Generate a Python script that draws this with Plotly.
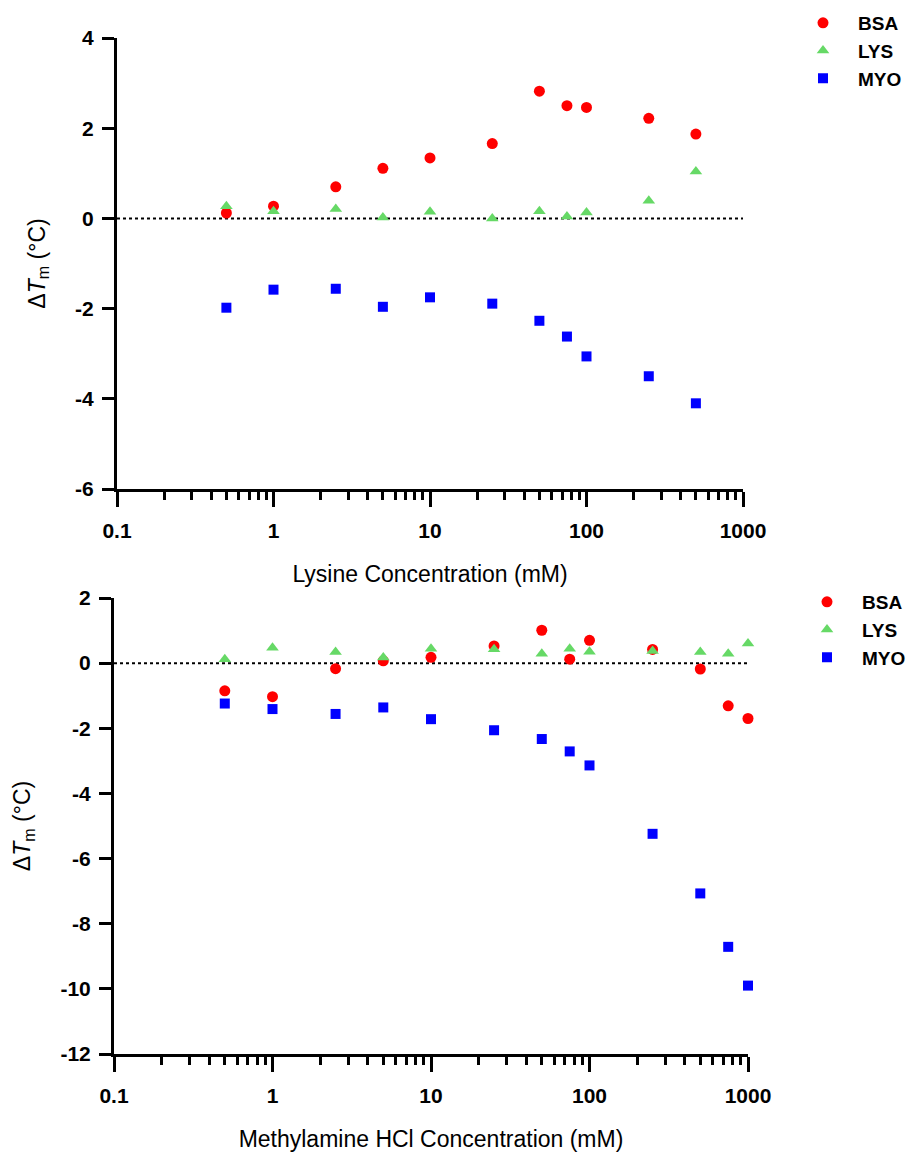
import plotly.graph_objects as go

# page has an 8px body margin, so the figure is sized to fit inside the 914x1157 window
W, H = 906, 1149
OFF = 8

# ---- Data: top panel (Lysine) ----
lys_conc = [0.5, 1, 2.5, 5, 10, 25, 50, 75, 100, 250, 500]
lys_bsa = [0.12, 0.27, 0.70, 1.11, 1.34, 1.66, 2.82, 2.50, 2.46, 2.22, 1.87]
lys_lys = [0.27, 0.16, 0.21, 0.02, 0.15, 0.00, 0.16, 0.04, 0.13, 0.39, 1.04]
lys_myo = [-1.98, -1.58, -1.56, -1.96, -1.75, -1.89, -2.27, -2.62, -3.06, -3.50, -4.10]

# ---- Data: bottom panel (Methylamine HCl) ----
mea_conc = [0.5, 1, 2.5, 5, 10, 25, 50, 75, 100, 250, 500, 750, 1000]
mea_bsa = [-0.85, -1.03, -0.17, 0.07, 0.18, 0.53, 1.01, 0.12, 0.70, 0.42, -0.18, -1.31, -1.70]
mea_lys = [0.12, 0.47, 0.34, 0.17, 0.44, 0.43, 0.29, 0.44, 0.35, 0.37, 0.34, 0.29, 0.60]
mea_myo = [-1.24, -1.41, -1.56, -1.36, -1.72, -2.06, -2.33, -2.71, -3.14, -5.24, -7.07, -8.71, -9.90]

x_tickvals = [0.1, 1, 10, 100, 1000]
x_ticktext = ["0.1", "1", "10", "100", "1000"]
minor_vals = [m * d for d in [0.1, 1, 10, 100] for m in range(2, 10)]

y1_tickvals = [-6, -4, -2, 0, 2, 4]
y1_ticktext = ["-6", "-4", "-2", "0", "2", "4"]
y2_tickvals = [-12, -10, -8, -6, -4, -2, 0, 2]
y2_ticktext = ["-12", "-10", "-8", "-6", "-4", "-2", "0", "2"]

series_names = ["BSA", "LYS", "MYO"]
colors = {"BSA": "#ff0000", "LYS": "#66d966", "MYO": "#0000ff"}
symbols = {"BSA": "circle", "LYS": "triangle-up", "MYO": "square"}
sizes = {"BSA": 11, "LYS": 11, "MYO": 10}

FONT = "Liberation Sans, Arial, sans-serif"


def px(x):
    return (x - OFF) / W


def py(y):
    return 1 - (y - OFF) / H


fig = go.Figure()

top = {"BSA": lys_bsa, "LYS": lys_lys, "MYO": lys_myo}
bot = {"BSA": mea_bsa, "LYS": mea_lys, "MYO": mea_myo}

for n in series_names:
    fig.add_trace(go.Scatter(
        x=lys_conc, y=top[n], mode="markers", name=n, cliponaxis=False,
        marker=dict(color=colors[n], symbol=symbols[n], size=sizes[n], line=dict(width=0)),
        xaxis="x", yaxis="y", legend="legend"))
for n in series_names:
    fig.add_trace(go.Scatter(
        x=mea_conc, y=bot[n], mode="markers", name=n, cliponaxis=False,
        marker=dict(color=colors[n], symbol=symbols[n], size=sizes[n], line=dict(width=0)),
        xaxis="x2", yaxis="y2", legend="legend2"))


def xaxis(dom, title, anchor):
    return dict(
        type="log", range=[-1, 3], domain=dom, anchor=anchor, automargin=False,
        tickmode="array", tickvals=x_tickvals, ticktext=x_ticktext,
        ticks="outside", ticklen=15, tickwidth=2.5, tickcolor="black",
        ticklabelstandoff=6,
        showline=True, linewidth=3, linecolor="black",
        showgrid=False, zeroline=False,
        tickfont=dict(family=FONT, size=21, color="black", weight="bold"),
        minor=dict(tickmode="array", tickvals=minor_vals, ticks="outside",
                   ticklen=8, tickwidth=2.5, tickcolor="black", showgrid=False),
        title=dict(text=title, font=dict(family=FONT, size=23, color="black"), standoff=25),
    )


def yaxis(dom, rng, anchor, tv, tt):
    return dict(
        range=rng, domain=dom, anchor=anchor, automargin=False,
        tickmode="array", tickvals=tv, ticktext=tt,
        ticks="outside", ticklen=12, tickwidth=2.5, tickcolor="black",
        ticklabelstandoff=4,
        showline=True, linewidth=3, linecolor="black",
        showgrid=False, zeroline=False,
        tickfont=dict(family=FONT, size=21, color="black", weight="bold"),
        title=dict(text="Δ<i>T</i><sub>m</sub> (°C)",
                   font=dict(family=FONT, size=23, color="black"), standoff=24),
    )


legend_common = dict(xanchor="left", yanchor="top", itemwidth=60,
                     font=dict(family=FONT, size=19, color="black", weight="bold"),
                     bgcolor="rgba(0,0,0,0)", tracegroupgap=0)

fig.update_layout(
    width=W, height=H,
    margin=dict(l=0, r=0, t=0, b=0, autoexpand=False),
    paper_bgcolor="white", plot_bgcolor="white",
    xaxis=xaxis([px(117), px(743)], "Lysine Concentration (mM)", "y"),
    yaxis=yaxis([py(489), py(38)], [-6, 4], "x", y1_tickvals, y1_ticktext),
    xaxis2=xaxis([px(114), px(748)], "Methylamine HCl Concentration (mM)", "y2"),
    yaxis2=yaxis([py(1054), py(598)], [-12, 2], "x2", y2_tickvals, y2_ticktext),
    legend=dict(x=px(788), y=py(4), **legend_common),
    legend2=dict(x=px(792), y=py(583), **legend_common),
    showlegend=True,
)

for xr, yr in [("x", "y"), ("x2", "y2")]:
    fig.add_shape(type="line", xref=f"{xr} domain", yref=yr, x0=0, x1=1, y0=0, y1=0,
                  line=dict(color="black", width=2, dash="dot"), layer="below")

fig.write_html("out.html")
